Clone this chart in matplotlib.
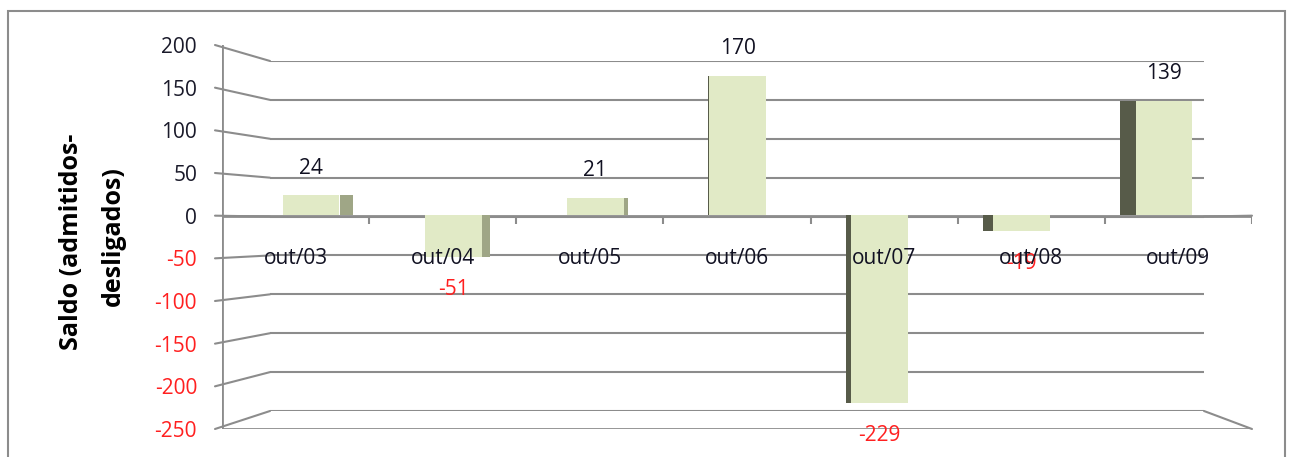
import matplotlib.pyplot as plt
from matplotlib.patches import ConnectionPatch, Rectangle

categories = ['out/03', 'out/04', 'out/05', 'out/06', 'out/07', 'out/08', 'out/09']
saldo = [24, -51, 21, 170, -229, -19, 139]
yticks = [200, 150, 100, 50, 0, -50, -100, -150, -200, -250]

W, H = 1290, 457
plt.rcParams['font.family'] = ['Open Sans', 'DejaVu Sans']

fig = plt.figure(figsize=(W / 100, H / 100), dpi=100)


def box(x0, y0, x1, y1):
    # pixel box -> figure fraction rect
    return [x0 / W, 1 - y1 / H, (x1 - x0) / W, (y1 - y0) / H]


grid = '#8c8c8c'
red = '#ff2020'

# back wall, front plane and the plane the bars stand in (fake 3D)
back = fig.add_axes(box(270, 61, 1204, 411))
front = fig.add_axes(box(222, 45, 1252, 429))
mid = fig.add_axes(box(240, 51, 1235, 420))
for ax in (back, front, mid):
    ax.set_xlim(0, len(categories))
    ax.set_ylim(-250, 200)
    ax.patch.set_visible(False)
    for s in ax.spines.values():
        s.set_visible(False)
    ax.set_xticks([])
    ax.set_yticks([])

# back wall gridlines
for v in yticks:
    back.axhline(v, color=grid, lw=1.5)

# side wall lines
for v in yticks:
    con = ConnectionPatch(xyA=(-7 / 1030, v), coordsA=front.get_yaxis_transform(),
                          xyB=(0, v), coordsB=back.get_yaxis_transform(),
                          color=grid, lw=1.5)
    fig.add_artist(con)

# floor and right edge
for v in (-250, 0):
    con = ConnectionPatch(xyA=(1, v), coordsA=front.get_yaxis_transform(),
                          xyB=(1, v), coordsB=back.get_yaxis_transform(),
                          color=grid, lw=1.5)
    fig.add_artist(con)
front.axhline(0, color=grid, lw=2)
front.axhline(-250, color=grid, lw=2)
front.axvline(0, color=grid, lw=2)
front.vlines(range(1, len(categories) + 1), -10, 0, color=grid, lw=1.5)

# y tick labels
front.set_yticks(yticks)
front.set_yticklabels([str(v) for v in yticks], fontsize=15)
front.tick_params(axis='y', length=0, pad=18)
for lab, v in zip(front.get_yticklabels(), yticks):
    lab.set_color(red if v < 0 else '#1a1a2a')

# bars with a shaded side face
for i, v in enumerate(saldo):
    cx = i + 0.5
    side = (cx - 3.3) * -0.033
    if side > 0:
        mid.bar(cx + 0.2 + side / 2, v, width=side, color='#9fa686', zorder=2)
    elif side < 0:
        mid.bar(cx - 0.2 + side / 2, v, width=-side, color='#575b49', zorder=2)
    mid.bar(cx, v, width=0.4, color='#e1eac6', zorder=3)

# category labels and data labels on top of everything
for i, c in enumerate(categories):
    fig.text(i + 0.5, -50, c, transform=front.transData, ha='center',
             va='center', fontsize=15, color='#111122', zorder=5)
for i, v in enumerate(saldo):
    off = 19.5 if v > 0 else -23.5
    mid.annotate(str(v), (i + 0.5, v), xytext=(0, off), textcoords='offset points',
                 ha='center', va='center', fontsize=15,
                 color='#111122' if v > 0 else red, zorder=4)

fig.text(72 / W, 1 - 242 / H, 'Saldo (admitidos-', rotation=90, ha='center',
         va='center', fontsize=18, fontweight='bold')
fig.text(113 / W, 1 - 236 / H, 'desligados)', rotation=90, ha='center',
         va='center', fontsize=18, fontweight='bold')

# chart frame
fig.add_artist(Rectangle((8 / W, -0.1), (1285 - 8) / W, 1.1 - 11 / H,
                         transform=fig.transFigure, fill=False,
                         edgecolor='#8c8c8c', lw=1.5))

fig.savefig('out.png', dpi=100)
